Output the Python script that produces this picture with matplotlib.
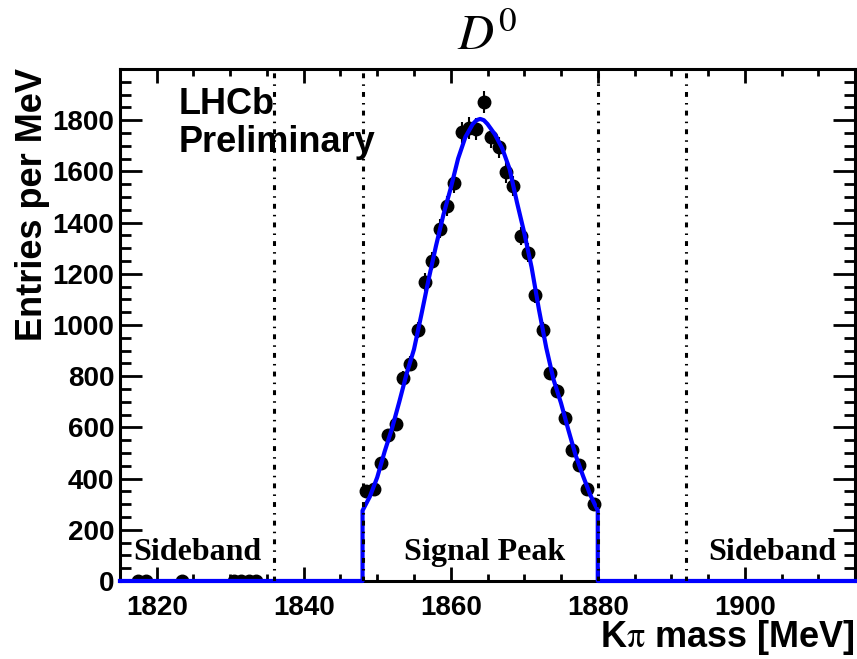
import numpy as np
import matplotlib
matplotlib.use("Agg")
import matplotlib.pyplot as plt
from matplotlib.ticker import MultipleLocator

# Kpi mass bins (1 MeV) and entries
mass = [1817.5, 1818.5, 1823.5, 1830.5, 1831.5, 1832.5, 1833.5,
        1848.5, 1849.5, 1850.5, 1851.5, 1852.5, 1853.5, 1854.5, 1855.5,
        1856.5, 1857.5, 1858.5, 1859.5, 1860.5, 1861.5, 1862.5, 1863.5,
        1864.5, 1865.5, 1866.5, 1867.5, 1868.5, 1869.5, 1870.5, 1871.5,
        1872.5, 1873.5, 1874.5, 1875.5, 1876.5, 1877.5, 1878.5, 1879.5]
entries = [0, 0, 0, 0, 0, 0, 0,
           353, 359, 462, 569, 614, 792, 849, 979,
           1168, 1250, 1376, 1465, 1556, 1752, 1770, 1765,
           1870, 1733, 1694, 1596, 1543, 1348, 1283, 1119,
           979, 813, 741, 637, 513, 454, 359, 301]

# fit curve (zero outside the signal window)
fit_mass = [1815, 1848, 1848, 1849, 1850, 1851, 1852, 1853, 1854, 1855, 1856,
            1857, 1858, 1859, 1860, 1861, 1862, 1863, 1863.5, 1864, 1864.5,
            1865, 1866, 1867, 1868, 1869, 1870, 1871, 1872, 1873, 1874,
            1875, 1876, 1877, 1878, 1879, 1880, 1880, 1915]
fit_val = [0, 0, 275, 330, 405, 505, 595, 700, 810, 905, 1040,
           1180, 1310, 1430, 1535, 1650, 1735, 1785, 1800, 1805, 1800,
           1785, 1745, 1690, 1610, 1480, 1360, 1225, 1060, 910, 785,
           695, 590, 490, 410, 335, 275, 0, 0]

# sideband / signal window boundaries
cuts = [1836, 1848, 1880, 1892]

plt.rcParams["font.family"] = "Liberation Sans"
plt.rcParams["mathtext.fontset"] = "stix"

fig = plt.figure(figsize=(8.57, 6.59), dpi=100)
ax = fig.add_axes([0.140, 0.1184, 0.8577, 0.7769])

ax.errorbar(mass, entries, yerr=np.sqrt(entries), fmt="o", color="black",
            ms=9, elinewidth=1.5, capsize=0, zorder=3)
ax.plot(fit_mass, fit_val, color="blue", lw=3, zorder=4, clip_on=False)

for c in cuts:
    ax.plot([c, c], [0, 2000], color="black", lw=2.2,
            linestyle=(0, (1.6, 2.0, 0.5, 2.0)), dash_capstyle="butt", zorder=5)

ax.set_xlim(1815, 1915)
ax.set_ylim(0, 2000)
ax.xaxis.set_major_locator(MultipleLocator(20))
ax.xaxis.set_minor_locator(MultipleLocator(5))
ax.set_yticks(np.arange(0, 1801, 200))
ax.yaxis.set_minor_locator(MultipleLocator(50))

ax.tick_params(which="both", direction="in", top=True, right=True, width=2,
               labelsize=20)
ax.tick_params(axis="x", which="major", length=10, pad=10)
ax.tick_params(axis="x", which="minor", length=5)
ax.tick_params(axis="y", which="major", length=16, pad=4)
ax.tick_params(axis="y", which="minor", length=8)
for lab in ax.get_xticklabels() + ax.get_yticklabels():
    lab.set_fontweight("bold")
for s in ax.spines.values():
    s.set_linewidth(2.2)

ax.set_title(r"$D^0$", fontsize=36, pad=14)

ax.text(1823.0, 1824, "LHCb", fontsize=26, fontweight="bold", va="baseline")
ax.text(1823.0, 1675, "Preliminary", fontsize=26, fontweight="bold", va="baseline")

ax.text(1816.8, 82, "Sideband", family="Liberation Serif", fontsize=23,
        fontweight="bold", va="baseline")
ax.text(1864.6, 82, "Signal Peak", family="Liberation Serif", fontsize=23,
        fontweight="bold", ha="center", va="baseline")
ax.text(1912.4, 82, "Sideband", family="Liberation Serif", fontsize=23,
        fontweight="bold", ha="right", va="baseline")

fig.text(33 / 857, 1 - 68 / 659, "Entries per MeV", rotation=90, fontsize=26,
         fontweight="bold", ha="center", va="top")
fig.text(855 / 857, 0.032, r"K$\mathrm{\pi}$ mass [MeV]", fontsize=26,
         fontweight="bold", ha="right", va="center")

plt.savefig("out.png", dpi=100)
